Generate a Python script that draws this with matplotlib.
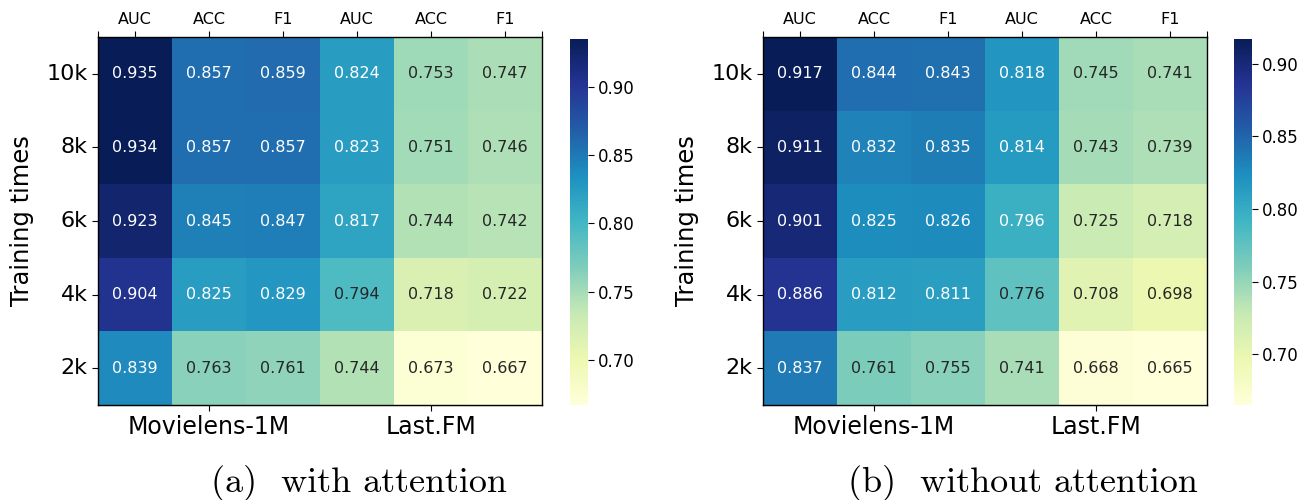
import matplotlib.pyplot as plt
import numpy as np
import seaborn as sns

metrics = ['AUC', 'ACC', 'F1', 'AUC', 'ACC', 'F1']
datasets = ['Movielens-1M', 'Last.FM']
train_sizes = ['10k', '8k', '6k', '4k', '2k']

# rows: 10k .. 2k, cols: Movielens-1M (AUC, ACC, F1) then Last.FM (AUC, ACC, F1)
with_att = np.array([
    [0.935, 0.857, 0.859, 0.824, 0.753, 0.747],
    [0.934, 0.857, 0.857, 0.823, 0.751, 0.746],
    [0.923, 0.845, 0.847, 0.817, 0.744, 0.742],
    [0.904, 0.825, 0.829, 0.794, 0.718, 0.722],
    [0.839, 0.763, 0.761, 0.744, 0.673, 0.667],
])
without_att = np.array([
    [0.917, 0.844, 0.843, 0.818, 0.745, 0.741],
    [0.911, 0.832, 0.835, 0.814, 0.743, 0.739],
    [0.901, 0.825, 0.826, 0.796, 0.725, 0.718],
    [0.886, 0.812, 0.811, 0.776, 0.708, 0.698],
    [0.837, 0.761, 0.755, 0.741, 0.668, 0.665],
])

fig = plt.figure(figsize=(13.11, 5), dpi=100)

panels = [
    (with_att, '(a)  with attention', 0.0748, 0.4348, 0.274),
    (without_att, '(b)  without attention', 0.582, 0.9413, 0.780),
]

for data, caption, left, cleft, cx in panels:
    ax = fig.add_axes([left, 0.19, 0.3387, 0.736])
    cax = fig.add_axes([cleft, 0.19, 0.0135, 0.732])
    sns.heatmap(data, ax=ax, cbar_ax=cax, cmap='YlGnBu', annot=True,
                fmt='.3f', annot_kws={'size': 11.5})

    # metric names along the top, with ticks also at both edges
    ax.xaxis.tick_top()
    ax.set_xticks(np.r_[0, np.arange(6) + 0.5, 6])
    ax.set_xticklabels([''] + metrics + [''], fontsize=11.5)
    ax.tick_params(axis='x', top=True, bottom=False, length=4)

    # dataset names underneath
    sec = ax.secondary_xaxis('bottom')
    sec.set_xticks([1.5, 4.5])
    sec.set_xticklabels(datasets, fontsize=17)
    sec.tick_params(length=4)

    ax.set_yticks(np.arange(5) + 0.5)
    ax.set_yticklabels(train_sizes, rotation=0, fontsize=16)
    ax.tick_params(axis='y', length=4)
    ax.set_ylabel('Training times', fontsize=17.5, labelpad=9)

    for s in ax.spines.values():
        s.set_visible(True)
        s.set_linewidth(1)

    cax.set_yticks([0.70, 0.75, 0.80, 0.85, 0.90])
    cax.tick_params(labelsize=12, length=4)

    fig.text(cx, 0.016, caption, family='cmr10', fontsize=26,
             ha='center', va='baseline')

fig.savefig('out.png', dpi=100)
